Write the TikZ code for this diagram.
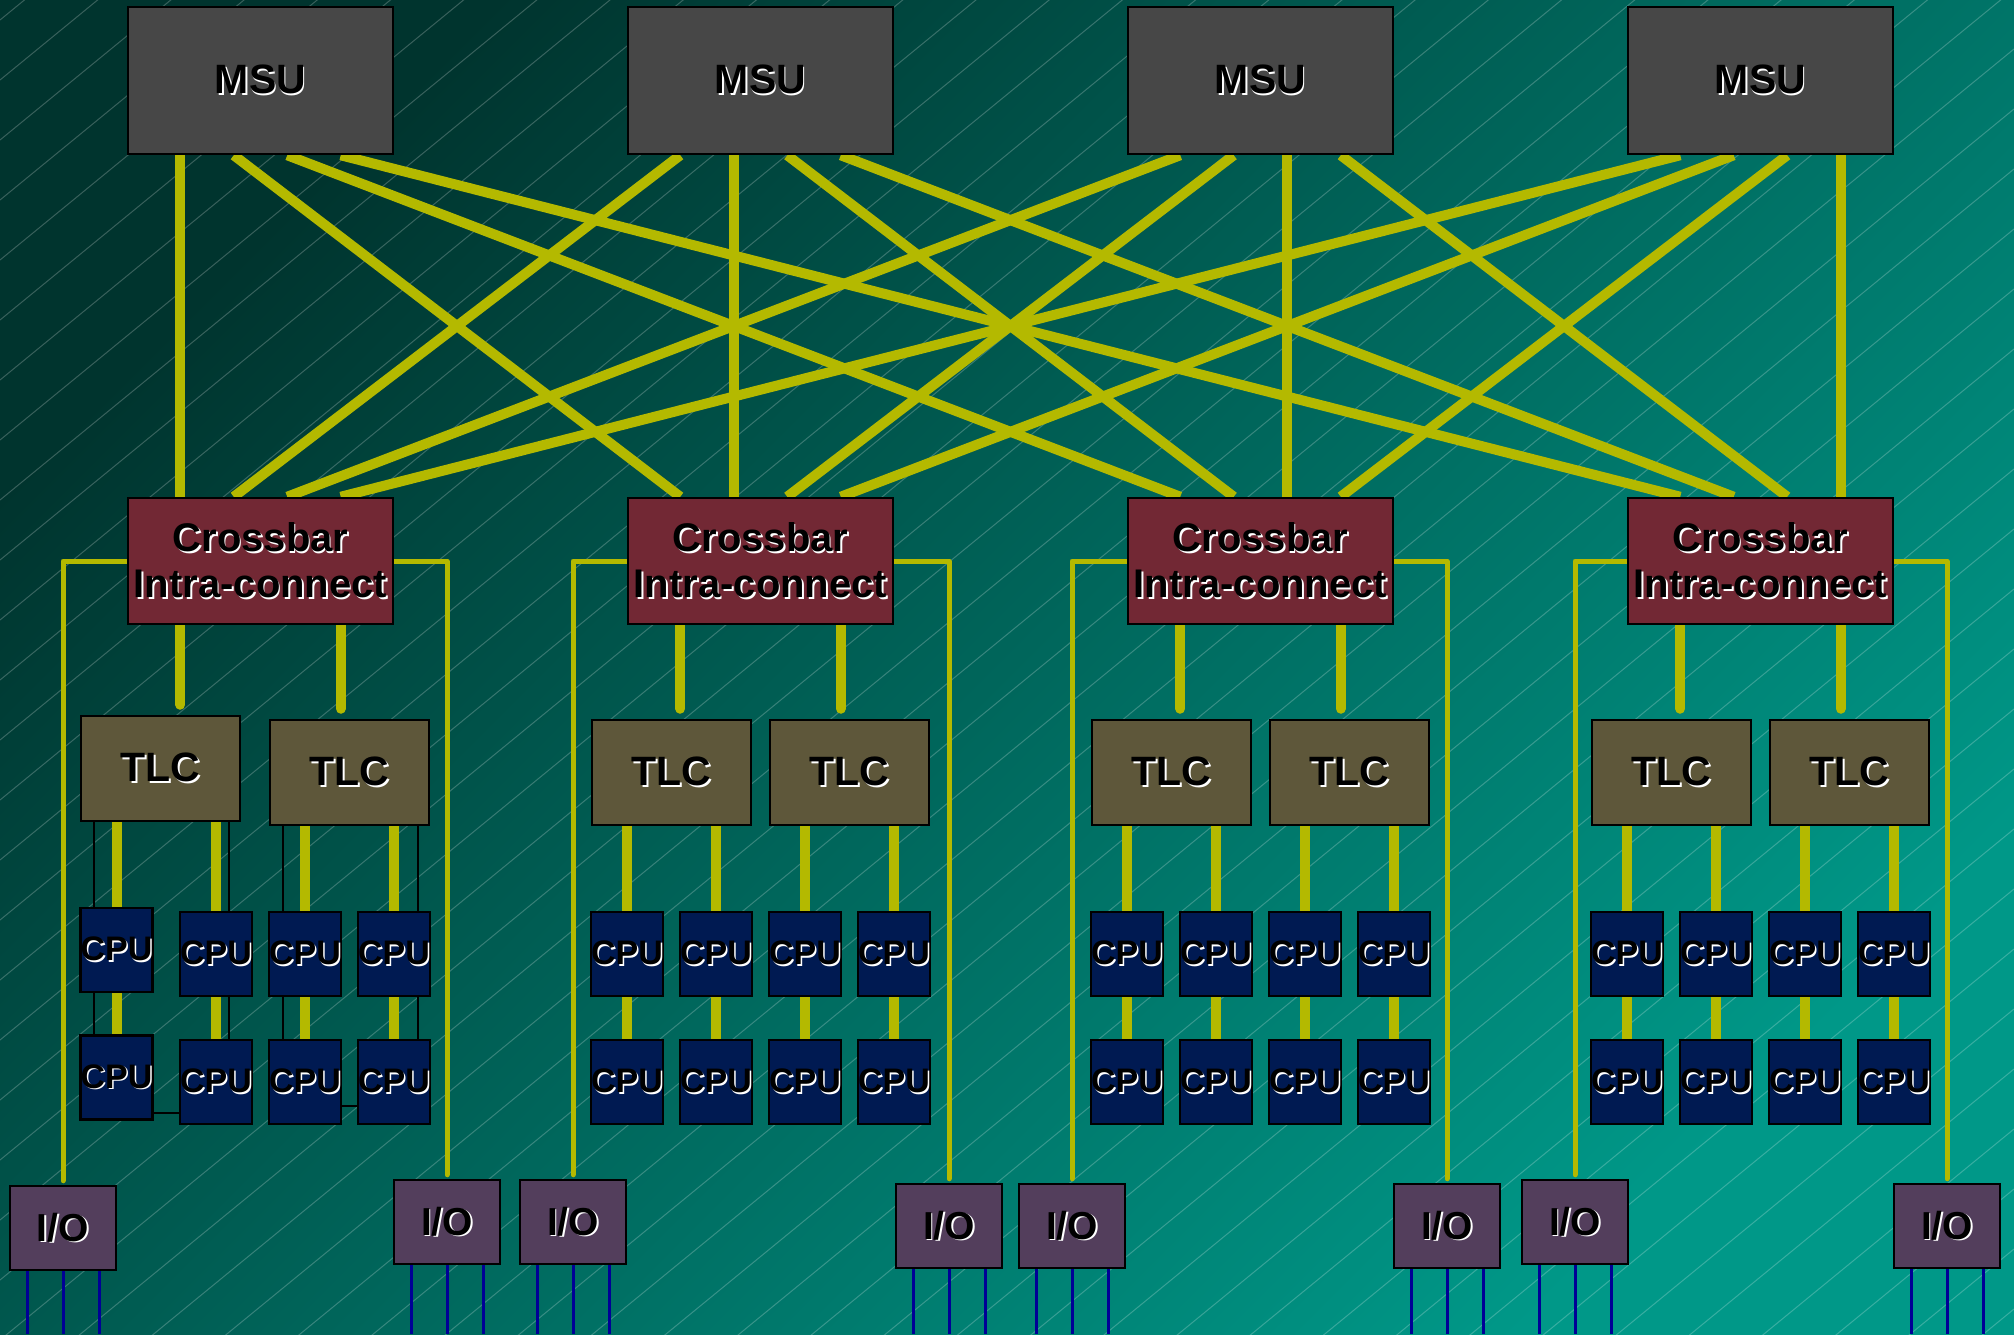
\documentclass[tikz,border=0pt]{standalone}
\usepackage{fontspec}
\setmainfont{Liberation Sans}
\usetikzlibrary{calc}
\pgfdeclarelayer{bg}
\pgfdeclarelayer{links}
\pgfsetlayers{bg,links,main}

\definecolor{bgdark}{RGB}{0,52,46}
\definecolor{bglight}{RGB}{0,152,136}
\definecolor{busyellow}{RGB}{180,185,0}
\definecolor{msugray}{RGB}{71,71,71}
\definecolor{xbarred}{RGB}{114,40,52}
\definecolor{tlcbrown}{RGB}{94,87,58}
\definecolor{cpublue}{RGB}{0,26,82}
\definecolor{iopurple}{RGB}{83,62,92}
\definecolor{wireblue}{RGB}{0,0,150}

\newcommand{\emb}[1]{\leavevmode\rlap{\kern1.5pt\raisebox{-1.5pt}{\color{white}#1}}#1}

\begin{document}
\begin{tikzpicture}[x=1pt,y=-1pt,
  unit/.style={draw=black,line width=2.5pt,inner sep=0pt,align=center},
  msu/.style={unit,fill=msugray,minimum width=265pt,minimum height=147pt,font=\fontsize{41}{41}\selectfont\bfseries},
  xbar/.style={unit,fill=xbarred,minimum width=265pt,minimum height=126pt,font=\fontsize{40}{46}\selectfont\bfseries},
  tlc/.style={unit,fill=tlcbrown,minimum width=159pt,minimum height=105pt,font=\fontsize{41}{41}\selectfont\bfseries},
  cpu/.style={unit,fill=cpublue,minimum width=70pt,minimum height=84pt,font=\fontsize{34}{34}\selectfont\bfseries},
  io/.style={unit,fill=iopurple,minimum width=106pt,minimum height=84pt,font=\fontsize{39}{39}\selectfont\bfseries},
  bus/.style={busyellow,line width=10pt},
  side/.style={busyellow,line width=5pt,line join=round,line cap=round,shorten >=4pt},
  wire/.style={wireblue,line width=3pt},
  tie/.style={black,line width=2pt},
  hatch/.style={white,opacity=0.22,line width=1pt}]

  \useasboundingbox (0,0) rectangle (2014,1334);
  \coordinate (bot) at (0,1334);

  \foreach \i in {0,...,3} {
    \node[msu] (msu\i) at (260.5+500*\i,80.5) {\emb{MSU}};
    \node[xbar] (xb\i) at (260.5+500*\i,561) {\emb{Crossbar}\\\emb{Intra-connect}};
  }

  \node[tlc] (tlc00) at (160.5,768.5) {\emb{TLC}};
  \node[tlc] (tlc01) at (349.5,772.5) {\emb{TLC}};
  \foreach \g in {1,2,3}
    \foreach \a in {0,1}
      \node[tlc] (tlc\g\a) at (171.5+500*\g+178*\a,772.5) {\emb{TLC}};

  \node[cpu] (cpuA00) at (116.5,950) {\emb{CPU}};
  \node[cpu] (cpuB00) at (116.5,1077.5) {\emb{CPU}};
  \foreach \k in {1,2,3} {
    \node[cpu] (cpuA0\k) at (127+89*\k,954) {\emb{CPU}};
    \node[cpu] (cpuB0\k) at (127+89*\k,1082) {\emb{CPU}};
  }
  \foreach \g in {1,2,3}
    \foreach \k in {0,...,3} {
      \node[cpu] (cpuA\g\k) at (127+500*\g+89*\k,954) {\emb{CPU}};
      \node[cpu] (cpuB\g\k) at (127+500*\g+89*\k,1082) {\emb{CPU}};
    }

  \foreach \n/\x/\y in {ioL0/63/1228,ioR0/447/1222,ioL1/573/1222,ioR1/949/1226,
                        ioL2/1072/1226,ioR2/1447/1226,ioL3/1575/1222,ioR3/1947/1226}
    \node[io] (\n) at (\x,\y) {\emb{I/O}};

  \begin{pgfonlayer}{bg}
    \shade[top color=bgdark,bottom color=bglight,shading angle=45] (0,0) rectangle (2014,1334);
    \begin{scope}
      \clip (0,0) rectangle (2014,1334);
      \foreach \k in {0,...,50}
        \draw[hatch] (0,20+60*\k) -- ++(2014,-1651);
    \end{scope}
  \end{pgfonlayer}

  \begin{pgfonlayer}{links}
    \foreach \i in {0,...,3}
      \foreach \j in {0,...,3} {
        \pgfmathsetmacro{\fm}{0.2*(\j+1)}
        \pgfmathsetmacro{\fx}{0.2*(\i+1)}
        \draw[bus] ($(msu\i.south west)!\fm!(msu\i.south east)$) -- ($(xb\j.north west)!\fx!(xb\j.north east)$);
      }

    \foreach \g in {0,...,3} {
      \foreach \a/\f in {0/0.2,1/0.8} {
        \path ($(xb\g.south west)!\f!(xb\g.south east)$) coordinate (drop);
        \draw[bus,line cap=round,shorten >=10pt] (drop) -- (drop |- tlc\g\a.north);
      }
      \foreach \k/\a in {0/0,1/0,2/1,3/1}
        \draw[bus] (cpuA\g\k.center |- tlc\g\a.south) -- (cpuB\g\k.center);
      \draw[side] (xb\g.west) -| (ioL\g.north);
      \draw[side] (xb\g.east) -| (ioR\g.north);
    }

    \foreach \n in {ioL0,ioR0,ioL1,ioR1,ioL2,ioR2,ioL3,ioR3}
      \foreach \d in {-36,0,36}
        \draw[wire] ($(\n.south)+(\d,0)$) -- ($(\n.south |- bot)+(\d,0)$);

    \path ([xshift=14pt]tlc00.south west) coordinate (t1)
          ([xshift=-12pt]tlc00.south east) coordinate (t2)
          ([xshift=14pt]tlc01.south west) coordinate (t3)
          ([xshift=-12pt]tlc01.south east) coordinate (t4)
          ([yshift=8pt]cpuB00.south east) coordinate (h1)
          ([yshift=19pt]cpuB02.south east) coordinate (h2);
    \draw[tie] (t1) -- (t1 |- cpuB00.north);
    \draw[tie] (t2) -- (t2 |- cpuB01.north);
    \draw[tie] (t3) -- (t3 |- cpuB02.north);
    \draw[tie] (t4) -- (t4 |- cpuB03.north);
    \draw[tie] (h1) -- (h1 -| cpuB01.west);
    \draw[tie] (h2) -- (h2 -| cpuB03.west);
  \end{pgfonlayer}
\end{tikzpicture}
\end{document}
